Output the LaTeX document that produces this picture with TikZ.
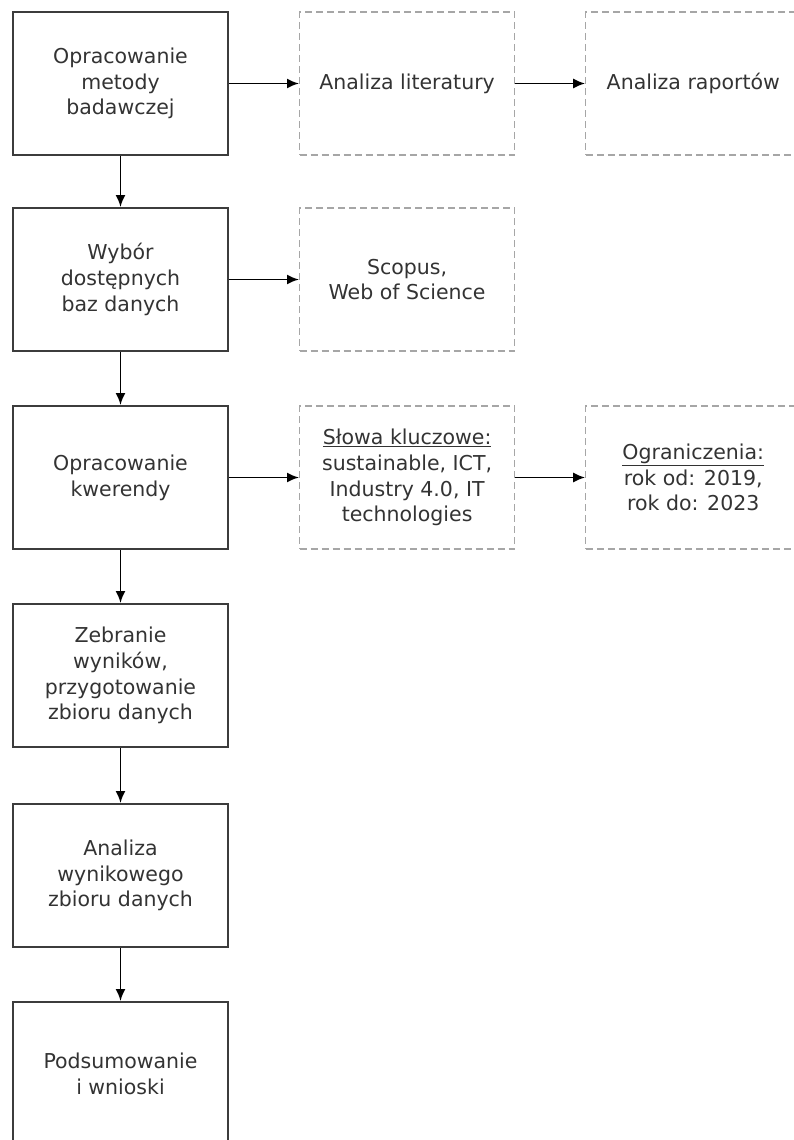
\documentclass[tikz,border=0pt]{standalone}
\usepackage{fontspec}
\setmainfont{DejaVu Sans}
\usepackage{tikz}
\usetikzlibrary{arrows.meta}
\usetikzlibrary{positioning}
\definecolor{boxgray}{HTML}{3C3C3C}
\definecolor{dashgray}{HTML}{A6A6A6}
\definecolor{txtgray}{HTML}{333333}
\tikzset{stage/.style={draw=boxgray,line width=2pt,minimum width=215pt,minimum height=143pt,inner sep=0pt,align=center,text=txtgray,font=\fontsize{20.5}{25.7}\selectfont}}
\tikzset{source/.style={stage,draw=dashgray,line width=1.2pt,dash pattern=on 7pt off 4pt}}
\tikzset{flow/.style={line width=1.8pt,-{Latex[length=12pt,width=10pt]},draw=black}}

\begin{document}
\begin{tikzpicture}[x=1pt,y=-1pt]
\useasboundingbox (0,0) rectangle (794,1140);
% etapy
\node (S1) at (120.5,83.5) [stage] {Opracowanie\\metody\\badawczej};
\node (S2) [stage,below=51pt of S1] {Wybór\\dostępnych\\baz danych};
\node (S3) [stage,below=53pt of S2] {Opracowanie\\kwerendy};
\node (S4) [stage,below=53pt of S3] {Zebranie\\wyników,\\przygotowanie\\zbioru danych};
\node (S5) [stage,below=55pt of S4] {Analiza\\wynikowego\\zbioru danych};
\node (S6) [stage,below=53pt of S5] {Podsumowanie\\i wnioski};
% zrodla
\node (R1) [source,right=70pt of S1] {Analiza literatury};
\node (R2) [source,right=70pt of R1] {Analiza raportów};
\node (Q1) [source,right=70pt of S2] {Scopus,\\Web of Science};
\node (K1) [source,right=70pt of S3] {\underline{Słowa kluczowe:}\\sustainable, ICT,\\Industry 4.0, IT\\technologies};
\node (K2) [source,right=70pt of K1] {\underline{Ograniczenia:}\\rok od: 2019,\\rok do: 2023};
\foreach \a / \b in {1/2,2/3,3/4,4/5,5/6}
{
	\draw[flow] (S\a) -- (S\b);
}
\draw[flow] (S1) -- (R1);
\draw[flow] (R1) -- (R2);
\draw[flow] (S2) -- (Q1);
\draw[flow] (S3) -- (K1);
\draw[flow] (K1) -- (K2);
\end{tikzpicture}
\end{document}
